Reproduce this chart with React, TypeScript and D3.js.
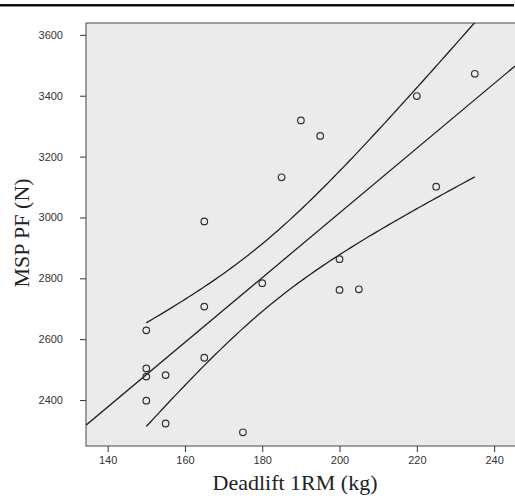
import * as d3 from "d3";
import React, { useEffect, useRef } from "react";

// deadlift 1RM (kg) and MSP peak force (N), one entry per subject
const deadlift = [150, 150, 150, 150, 155, 155, 165, 165, 165, 175, 180, 185, 190, 195, 200, 200, 205, 220, 225, 235];
const mspPF = [2629, 2504, 2477, 2398, 2482, 2323, 2987, 2707, 2539, 2294, 2784, 3132, 3319, 3268, 2863, 2762, 2764, 3399, 3101, 3472];

const xTicks = [140, 160, 180, 200, 220, 240];
const yTicks = [2400, 2600, 2800, 3000, 3200, 3400, 3600];

const X_DOMAIN = [134.4, 245.4];
const Y_DOMAIN = [2249, 3639];
const T_CRIT = 2.101; // t(0.975, df = 18)

const W = 515;
const H = 499;
const plot = { left: 86, top: 23, right: 515, bottom: 446 };

const App = () => {
  const ref = useRef<SVGSVGElement>(null);

  useEffect(() => {
    const svg = d3.select(ref.current);
    svg.selectAll("*").remove();

    const x = d3.scaleLinear().domain(X_DOMAIN).range([plot.left, plot.right]);
    const y = d3.scaleLinear().domain(Y_DOMAIN).range([plot.bottom, plot.top]);

    // least squares fit + 95% CI of the mean
    const n = deadlift.length;
    const mx = d3.mean(deadlift)!;
    const my = d3.mean(mspPF)!;
    const sxx = d3.sum(deadlift, (v) => (v - mx) ** 2);
    const sxy = d3.sum(deadlift, (v, i) => (v - mx) * (mspPF[i] - my));
    const slope = sxy / sxx;
    const icpt = my - slope * mx;
    const sse = d3.sum(deadlift, (v, i) => (mspPF[i] - (icpt + slope * v)) ** 2);
    const s = Math.sqrt(sse / (n - 2));
    const fit = (v: number) => icpt + slope * v;
    const half = (v: number) => T_CRIT * s * Math.sqrt(1 / n + (v - mx) ** 2 / sxx);

    // top rule
    svg.append("rect").attr("x", 0).attr("y", 4).attr("width", 514).attr("height", 2.5).attr("fill", "#111");

    svg.append("defs").append("clipPath").attr("id", "plotclip")
      .append("rect")
      .attr("x", plot.left).attr("y", plot.top)
      .attr("width", plot.right - plot.left).attr("height", plot.bottom - plot.top);

    svg.append("rect")
      .attr("x", plot.left).attr("y", plot.top)
      .attr("width", plot.right - plot.left + 2).attr("height", plot.bottom - plot.top)
      .attr("fill", "#ebebeb")
      .attr("stroke", "#444")
      .attr("stroke-width", 1);

    const g = svg.append("g").attr("clip-path", "url(#plotclip)");
    const line = d3.line<number>().x((v) => x(v));

    g.append("path")
      .attr("d", line.y((v) => y(fit(v)))(X_DOMAIN))
      .attr("fill", "none").attr("stroke", "#222").attr("stroke-width", 1.3);

    const [lo, hi] = d3.extent(deadlift) as [number, number];
    const grid = d3.range(0, 101).map((k) => lo + ((hi - lo) * k) / 100);
    [1, -1].forEach((sign) => {
      g.append("path")
        .attr("d", d3.line<number>().x((v) => x(v)).y((v) => y(fit(v) + sign * half(v)))(grid))
        .attr("fill", "none").attr("stroke", "#222").attr("stroke-width", 1.3);
    });

    g.selectAll("circle")
      .data(deadlift)
      .enter()
      .append("circle")
      .attr("cx", (d) => x(d))
      .attr("cy", (d, i) => y(mspPF[i]))
      .attr("r", 3.3)
      .attr("fill", "none")
      .attr("stroke", "#333")
      .attr("stroke-width", 1.2);

    // axes
    const tickFont = "'Liberation Sans', Arial, sans-serif";
    const xa = svg.append("g").attr("transform", `translate(0,${plot.bottom})`)
      .call(d3.axisBottom(x).tickValues(xTicks).tickSize(6).tickPadding(4).tickFormat(d3.format("d")));
    const ya = svg.append("g").attr("transform", `translate(${plot.left},0)`)
      .call(d3.axisLeft(y).tickValues(yTicks).tickSize(6).tickPadding(17).tickFormat(d3.format("d")));
    [xa, ya].forEach((a) => {
      a.select(".domain").remove();
      a.selectAll("line").attr("stroke", "#333");
      a.selectAll("text").attr("fill", "#333").style("font-family", tickFont).style("font-size", "11px");
    });

    svg.append("text")
      .attr("x", 295).attr("y", 490)
      .attr("text-anchor", "middle")
      .style("font-family", "'Liberation Serif', 'Times New Roman', serif")
      .style("font-size", "22px")
      .attr("fill", "#222")
      .text("Deadlift 1RM (kg)");

    svg.append("text")
      .attr("transform", `translate(29,233) rotate(-90)`)
      .attr("text-anchor", "middle")
      .style("font-family", "'Liberation Serif', 'Times New Roman', serif")
      .style("font-size", "22px")
      .attr("fill", "#222")
      .text("MSP PF (N)");
  }, []);

  return (
    <svg
      ref={ref}
      width={W}
      height={H}
      style={{ position: "absolute", left: 0, top: 0, background: "#fff" }}
    ></svg>
  );
};

export default App;
